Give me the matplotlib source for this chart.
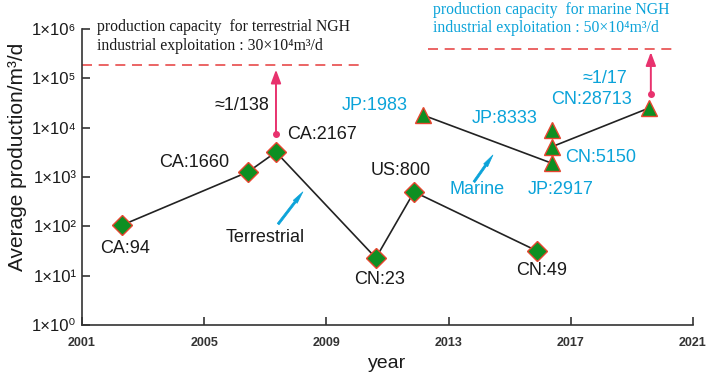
import matplotlib
matplotlib.use('Agg')
import matplotlib.pyplot as plt
from matplotlib.ticker import NullLocator

plt.rcParams['font.family'] = ['Liberation Sans', 'DejaVu Sans']

# Terrestrial tests (diamonds), joined in order
terr_year = [2002.3, 2006.43, 2007.35, 2010.62, 2011.87, 2015.9]
terr_prod = [105, 1260, 3200, 22.8, 500, 31.6]
terr_labels = ['CA:94', 'CA:1660', 'CA:2167', 'CN:23', 'US:800', 'CN:49']
terr_label_pos = [(2002.41, 36), (2004.67, 2000), (2008.86, 7400),
                  (2010.75, 8.2), (2011.44, 1380), (2016.06, 13)]

# Marine tests (triangles)
mar_year = [2012.16, 2016.38, 2016.38, 2016.38, 2019.56]
mar_prod = [18000, 1900, 4100, 8900, 25000]
mar_labels = ['JP:1983', 'JP:2917', 'CN:5150', 'JP:8333', 'CN:28713']
mar_label_pos = [(2010.59, 28800), (2016.68, 571), (2017.96, 2430),
                 (2014.85, 15000), (2017.69, 36500)]

# industrial capacity reference lines
terr_cap = 1.87e5
mar_cap = 3.9e5

# gap arrows: (x, from, to, label, label position)
gaps = [(2007.35, 7400, 1.5e5, '≈1/138', (2006.24, 28800)),
        (2019.62, 48000, 3.4e5, '≈1/17', (2018.12, 98000))]

xticks = [2001, 2005, 2009, 2013, 2017, 2021]
yticks = [1, 10, 100, 1e3, 1e4, 1e5, 1e6]
ytick_labels = ['1×10⁰', '1×10¹', '1×10²', '1×10³', '1×10⁴', '1×10⁵', '1×10⁶']

black = '#1a1a1a'
cyan = '#0ba3d9'
pink = '#e8326e'
green = '#0d8f22'
red_edge = '#e8452f'

fig = plt.figure(figsize=(7.06, 3.73), dpi=100)
ax = fig.add_axes([82 / 706, 1 - 325 / 373, (693 - 82) / 706, (325 - 29) / 373])

ax.set_yscale('log')
ax.set_xlim(2001, 2021)
ax.set_ylim(1, 1e6)

# connecting lines
ax.plot(terr_year, terr_prod, color='#222222', lw=1.2, zorder=2)
ax.plot(mar_year[:2], mar_prod[:2], color='#222222', lw=1.2, zorder=2)
ax.plot([mar_year[2], mar_year[4]], [mar_prod[2], mar_prod[4]],
        color='#222222', lw=1.2, zorder=2)

ax.plot(terr_year, terr_prod, ls='none', marker='D', ms=10,
        mfc=green, mec=red_edge, mew=1.0, zorder=3)
ax.plot(mar_year, mar_prod, ls='none', marker='^', ms=11,
        mfc=green, mec=red_edge, mew=1.0, zorder=3)

for lab, (x, y) in zip(terr_labels, terr_label_pos):
    ax.text(x, y, lab, color=black, fontsize=13, ha='center', va='center')
for lab, (x, y) in zip(mar_labels, mar_label_pos):
    ax.text(x, y, lab, color=cyan, fontsize=13, ha='center', va='center')

# capacity lines
ax.plot([2001, 2010.2], [terr_cap, terr_cap], color='#e84a4a', lw=1.2,
        dashes=(6, 4), zorder=1)
ax.plot([2012.33, 2020.5], [mar_cap, mar_cap], color='#e84a4a', lw=1.2,
        dashes=(6, 4), zorder=1)

serif = ['Liberation Serif', 'DejaVu Serif']
ax.text(2001.49, 1.1e6, 'production capacity  for terrestrial NGH',
        family=serif, fontsize=11.3, color=black, va='center')
ax.text(2001.49, 4.6e5, 'industrial exploitation : 30×10⁴m³/d',
        family=serif, fontsize=11.3, color=black, va='center')
ax.text(2012.49, 2.45e6, 'production capacity  for marine NGH',
        family=serif, fontsize=11.3, color=cyan, va='center')
ax.text(2012.49, 1.05e6, 'industrial exploitation : 50×10⁴m³/d',
        family=serif, fontsize=11.3, color=cyan, va='center')

# gap arrows
for i, (x, y0, y1, lab, (lx, ly)) in enumerate(gaps):
    ax.plot([x], [y0], marker='o', ms=4, color=pink, zorder=4)
    ax.annotate('', xy=(x, y1), xytext=(x, y0),
                arrowprops=dict(arrowstyle='-|>,head_length=0.8,head_width=0.3',
                                color=pink, lw=1.4, shrinkA=0, shrinkB=0))
    ax.text(lx, ly, lab, color=black if i == 0 else cyan, fontsize=13,
            ha='center', va='center')

# category arrows
arrow_style = 'simple,head_length=0.9,head_width=0.35,tail_width=0.16'
ax.annotate('', xy=(2008.23, 500), xytext=(2007.42, 111),
            arrowprops=dict(arrowstyle=arrow_style, color=cyan, lw=0.5,
                            shrinkA=0, shrinkB=0))
ax.annotate('', xy=(2014.45, 2790), xytext=(2013.83, 794),
            arrowprops=dict(arrowstyle=arrow_style, color=cyan, lw=0.5,
                            shrinkA=0, shrinkB=0))
ax.text(2006.99, 60, 'Terrestrial', color=black, fontsize=13, ha='center', va='center')
ax.text(2013.93, 571, 'Marine', color=cyan, fontsize=13, ha='center', va='center')

# axes styling
for side in ['top', 'right']:
    ax.spines[side].set_visible(False)
for side in ['left', 'bottom']:
    ax.spines[side].set_color('#333333')
    ax.spines[side].set_linewidth(1.2)

ax.set_xticks(xticks)
ax.set_xticklabels([str(t) for t in xticks], fontsize=9, fontweight='bold', color='#333333')
ax.set_yticks(yticks)
ax.set_yticklabels(ytick_labels, fontsize=12, color=black)
ax.yaxis.set_minor_locator(NullLocator())
ax.tick_params(direction='in', length=6, width=1.2, color='#333333')
ax.tick_params(axis='x', pad=9)
ax.tick_params(axis='y', pad=4)

ax.set_xlabel('year', fontsize=14, color=black, labelpad=4)
fig.text(18 / 706, 1 - 157 / 373, 'Average production/m³/d', rotation=90,
         fontsize=15, color=black, ha='center', va='center')

fig.savefig('out.png', dpi=100)
